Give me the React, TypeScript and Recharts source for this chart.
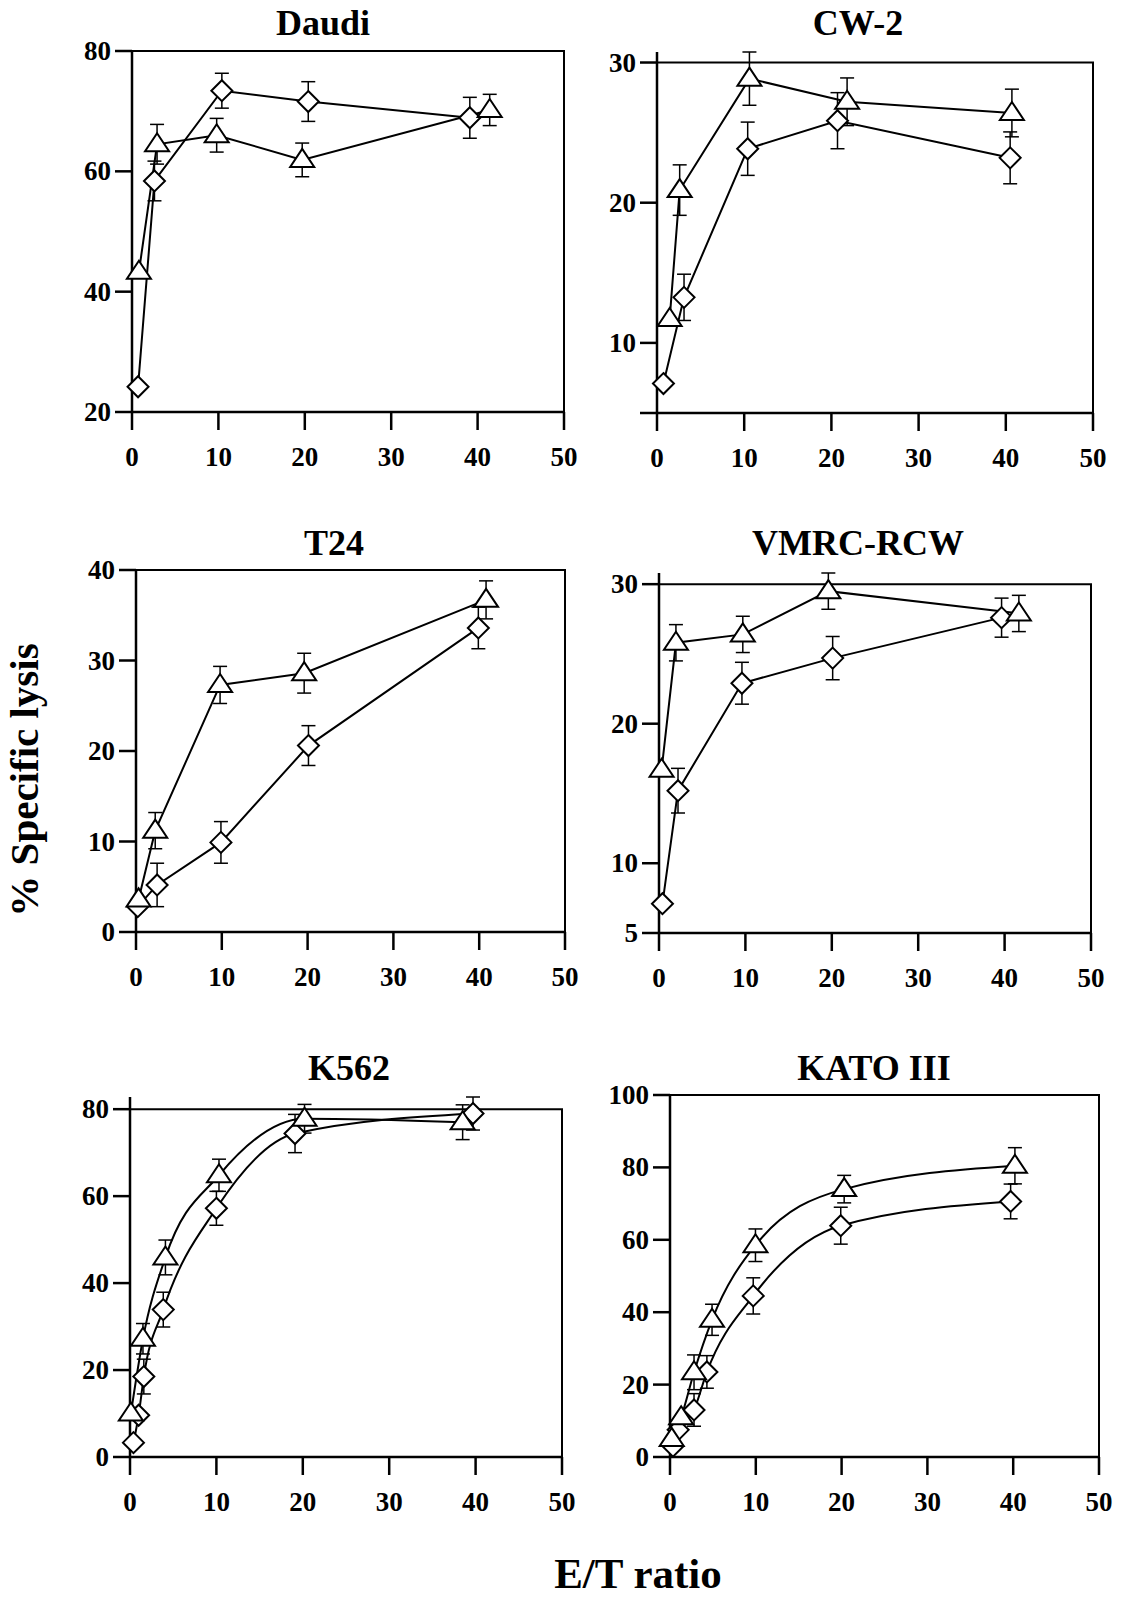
import React from 'react';
import { LineChart, Line, XAxis, YAxis, ErrorBar, ReferenceArea } from 'recharts';

type Pt = [number, number, number]; // [E/T ratio, % lysis, error]

const FONT = '"Liberation Serif", "Times New Roman", serif';

const xTicks = [0, 10, 20, 30, 40, 50];
const yAxisTitle = '% Specific lysis';
const xAxisTitle = 'E/T ratio';

// Daudi
const daudiYTicks = [20, 40, 60, 80];
const daudiTriangle: Pt[] = [[0.8, 43.3, 0], [2.9, 64.5, 3.3], [9.8, 66, 2.8], [19.7, 61.9, 2.8], [41.4, 70.2, 2.6]];
const daudiDiamond: Pt[] = [[0.7, 24.2, 0], [2.6, 58.4, 3.3], [10.4, 73.4, 2.9], [20.4, 71.6, 3.3], [39.1, 68.9, 3.4]];

// CW-2
const cw2YTicks = [5, 10, 20, 30];
const cw2Triangle: Pt[] = [[1.45, 11.7, 0], [2.6, 20.9, 1.8], [10.6, 28.85, 1.9], [21.8, 27.2, 1.7], [40.7, 26.4, 1.7]];
const cw2Diamond: Pt[] = [[0.74, 7.1, 0], [3.1, 13.25, 1.65], [10.4, 23.85, 1.9], [20.7, 25.85, 2.0], [40.5, 23.2, 1.85]];

// T24
const t24YTicks = [0, 10, 20, 30, 40];
const t24Triangle: Pt[] = [[0.3, 3.6, 0], [2.24, 11.2, 2.0], [9.8, 27.3, 2.05], [19.6, 28.6, 2.2], [40.8, 36.7, 2.1]];
const t24Diamond: Pt[] = [[0.2, 2.8, 0], [2.46, 5.2, 2.4], [9.9, 9.9, 2.3], [20.1, 20.6, 2.2], [39.9, 33.6, 2.3]];

// VMRC-RCW
const vmrcYTicks = [5, 10, 20, 30];
const vmrcTriangle: Pt[] = [[0.3, 16.7, 0], [1.96, 25.8, 1.3], [9.7, 26.4, 1.3], [19.6, 29.5, 1.3], [41.65, 27.9, 1.3]];
const vmrcDiamond: Pt[] = [[0.4, 7.1, 0], [2.2, 15.2, 1.6], [9.6, 22.9, 1.5], [20.1, 24.7, 1.55], [39.65, 27.6, 1.4]];

// K562
const k562YTicks = [0, 20, 40, 60, 80];
const k562Triangle: Pt[] = [[0.1, 10, 0], [1.5, 27.2, 3.5], [4.1, 45.9, 4.0], [10.3, 64.8, 3.7], [20.2, 77.8, 3.3], [38.5, 77.0, 4.0]];
const k562Diamond: Pt[] = [[0.4, 3.3, 0], [1.0, 9.6, 0], [1.6, 18.5, 4.0], [3.85, 33.9, 4.0], [10.0, 57.2, 3.9], [19.1, 74.4, 4.4], [39.7, 79.0, 3.8]];

// KATO III
const katoYTicks = [0, 20, 40, 60, 80, 100];
const katoTriangle: Pt[] = [[0.2, 5.0, 0], [1.3, 11.0, 0], [2.8, 23.4, 4.8], [4.9, 37.9, 4.3], [9.96, 58.5, 4.5], [20.3, 74.0, 3.8], [40.2, 80.45, 5.0]];
const katoDiamond: Pt[] = [[0.35, 3.0, 0], [0.95, 7.5, 0], [2.8, 13.0, 4.5], [4.3, 23.5, 4.5], [9.7, 44.5, 5.0], [19.9, 63.9, 5.1], [39.7, 70.6, 4.8]];

const toPts = (arr: Pt[]) => arr.map(([x, y, err]) => ({ x, y, err }));

const triangleDot = (p: any) => {
  const { cx, cy, index } = p;
  if (cx == null || cy == null) return <g key={`t-${index}`} />;
  return (
    <path
      key={`t-${index}`}
      d={`M${cx},${cy - 11} L${cx + 12},${cy + 7} L${cx - 12},${cy + 7} Z`}
      fill="#fff"
      stroke="#000"
      strokeWidth={2}
      strokeLinejoin="miter"
    />
  );
};

const diamondDot = (p: any) => {
  const { cx, cy, index } = p;
  if (cx == null || cy == null) return <g key={`d-${index}`} />;
  return (
    <path
      key={`d-${index}`}
      d={`M${cx},${cy - 10.5} L${cx + 10.5},${cy} L${cx},${cy + 10.5} L${cx - 10.5},${cy} Z`}
      fill="#fff"
      stroke="#000"
      strokeWidth={2}
    />
  );
};

const XTick = (p: any) => (
  <text x={p.x} y={p.y + 36} textAnchor="middle" fontSize={27} fontWeight="bold" fontFamily={FONT} fill="#000">
    {p.payload.value}
  </text>
);

const makeYTick = (hidden: number[]) => (p: any) => (
  <text x={p.x} y={p.y + 9} textAnchor="end" fontSize={27} fontWeight="bold" fontFamily={FONT} fill="#000">
    {hidden.includes(p.payload.value) ? '' : p.payload.value}
  </text>
);

type PanelProps = {
  box: [number, number, number, number];
  yTicks: number[];
  hidden?: number[];
  tri: Pt[];
  dia: Pt[];
  curve: 'linear' | 'monotone';
};

function Panel({ box, yTicks, hidden = [], tri, dia, curve }: PanelProps) {
  const [L, R, T, B] = box;
  const padL = 90, padT = 20, padR = 20, padB = 70;
  const w = R - L + padL + padR;
  const h = B - T + padT + padB;
  const yMin = yTicks[0];
  const yMax = yTicks[yTicks.length - 1];
  const axisStyle = { stroke: '#000', strokeWidth: 2.5 };
  return (
    <div style={{ position: 'absolute', left: L - padL, top: T - padT, width: w, height: h }}>
      <LineChart width={w} height={h} margin={{ top: padT, right: padR, bottom: 0, left: 0 }}>
        <XAxis
          dataKey="x"
          type="number"
          domain={[0, 50]}
          ticks={xTicks}
          interval={0}
          height={padB}
          tickSize={18}
          tickMargin={0}
          axisLine={axisStyle}
          tickLine={axisStyle}
          tick={XTick}
        />
        <YAxis
          type="number"
          domain={[yMin, yMax]}
          ticks={yTicks}
          interval={0}
          width={padL}
          tickSize={17}
          tickMargin={4}
          axisLine={axisStyle}
          tickLine={axisStyle}
          tick={makeYTick(hidden)}
        />
        <ReferenceArea x1={0} x2={50} y1={yMin} y2={yMax} fill="none" fillOpacity={0} stroke="#000" strokeWidth={2} strokeOpacity={1} />
        <Line
          data={toPts(dia)}
          dataKey="y"
          type={curve}
          stroke="#000"
          strokeWidth={2}
          dot={diamondDot}
          activeDot={false}
          isAnimationActive={false}
        >
          <ErrorBar dataKey="err" direction="y" width={7} stroke="#000" strokeWidth={1.5} />
        </Line>
        <Line
          data={toPts(tri)}
          dataKey="y"
          type={curve}
          stroke="#000"
          strokeWidth={2}
          dot={triangleDot}
          activeDot={false}
          isAnimationActive={false}
        >
          <ErrorBar dataKey="err" direction="y" width={7} stroke="#000" strokeWidth={1.5} />
        </Line>
      </LineChart>
    </div>
  );
}

const titles: [string, number, number][] = [
  ['Daudi', 323, 35],
  ['CW-2', 858, 35],
  ['T24', 334, 555],
  ['VMRC-RCW', 858, 555],
  ['K562', 349, 1080],
  ['KATO III', 874, 1080],
];

export default function App() {
  return (
    <div style={{ position: 'absolute', left: 0, top: 0, width: 1125, height: 1599, background: '#fff', overflow: 'hidden' }}>
      <Panel box={[132, 564, 51, 412]} yTicks={daudiYTicks} tri={daudiTriangle} dia={daudiDiamond} curve="linear" />
      <Panel box={[657, 1093, 52, 413]} yTicks={cw2YTicks} hidden={[5]} tri={cw2Triangle} dia={cw2Diamond} curve="linear" />
      <Panel box={[136, 565, 570, 932]} yTicks={t24YTicks} tri={t24Triangle} dia={t24Diamond} curve="linear" />
      <Panel box={[659, 1091, 573, 933]} yTicks={vmrcYTicks} tri={vmrcTriangle} dia={vmrcDiamond} curve="linear" />
      <Panel box={[130, 562, 1097, 1457]} yTicks={k562YTicks} tri={k562Triangle} dia={k562Diamond} curve="monotone" />
      <Panel box={[670, 1099, 1095, 1457]} yTicks={katoYTicks} tri={katoTriangle} dia={katoDiamond} curve="monotone" />
      <svg width={1125} height={1599} style={{ position: 'absolute', left: 0, top: 0, pointerEvents: 'none' }}>
        {titles.map(([t, x, y]) => (
          <text key={t} x={x} y={y} textAnchor="middle" fontSize={36} fontWeight="bold" fontFamily={FONT} fill="#000">
            {t}
          </text>
        ))}
        <text transform="translate(38,780) rotate(-90)" textAnchor="middle" fontSize={41} fontWeight="bold" fontFamily={FONT} fill="#000">
          {yAxisTitle}
        </text>
        <text x={638} y={1588} textAnchor="middle" fontSize={43} fontWeight="bold" fontFamily={FONT} fill="#000">
          {xAxisTitle}
        </text>
      </svg>
    </div>
  );
}
